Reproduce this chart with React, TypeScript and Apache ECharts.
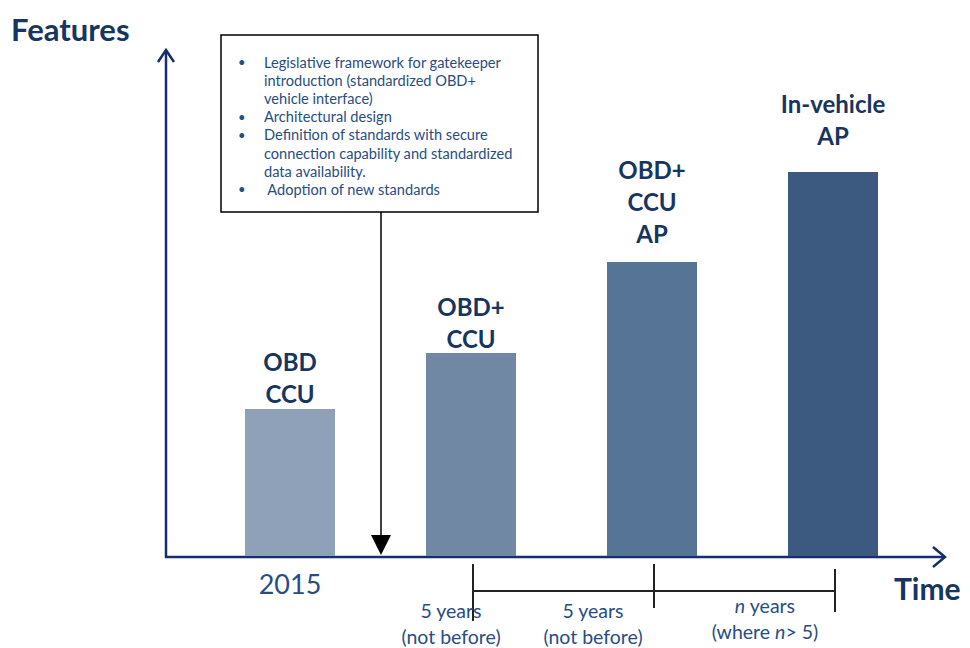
import React, { useEffect, useRef } from "react";
import * as echarts from "echarts";

// ---- data ----
const categories = ["2015", "", "", ""];
const barLabels = ["OBD\nCCU", "OBD+\nCCU", "OBD+\nCCU\nAP", "In-vehicle\nAP"];
const featureLevels = [147, 203, 294, 384];
const barColors = ["#8fa1b9", "#7188a5", "#567495", "#3c5a80"];
const labelGaps = [0, -1, 13, 21];
const boxItems = [
  ["Legislative framework for gatekeeper", "introduction (standardized OBD+", "vehicle interface)"],
  ["Architectural design"],
  ["Definition of standards with secure", "connection capability and standardized", "data availability."],
  [" Adoption of new standards"],
];
const periodLabels = [
  ["5 years", "(not before)"],
  ["5 years", "(not before)"],
  ["{i|n} years", "(where {i|n}> 5)"],
];

const NAVY = "#163560";
const AXIS = "#142f6b";
const TEXTBLUE = "#284d84";
const FONT = "Lato, 'Open Sans', sans-serif";

export default function App() {
  const ref = useRef<HTMLDivElement>(null);
  useEffect(() => {
    if (!ref.current) return;
    const chart = echarts.init(ref.current, null, { renderer: "svg" });

    const graphics: any[] = [];
    // axes arrows
    graphics.push({ type: "line", shape: { x1: 166, y1: 558, x2: 166, y2: 50 }, style: { stroke: AXIS, lineWidth: 2.5 } });
    graphics.push({ type: "polyline", shape: { points: [[158, 62], [166, 50], [174, 62]] }, style: { stroke: AXIS, lineWidth: 2.5, fill: "none" } });
    graphics.push({ type: "line", shape: { x1: 165, y1: 557, x2: 944, y2: 557 }, style: { stroke: AXIS, lineWidth: 2.5 } });
    graphics.push({ type: "polyline", shape: { points: [[933, 547], [945, 557], [933, 567]] }, style: { stroke: AXIS, lineWidth: 2.5, fill: "none" } });
    // titles
    graphics.push({ type: "text", x: 11, y: 29, style: { text: "Features", font: `bold 31px ${FONT}`, fill: NAVY, verticalAlign: "middle" } });
    graphics.push({ type: "text", x: 894, y: 588, style: { text: "Time", font: `bold 30px ${FONT}`, fill: NAVY, verticalAlign: "middle" } });
    // text box
    graphics.push({ type: "rect", shape: { x: 221, y: 35, width: 317, height: 177 }, style: { stroke: "#000", lineWidth: 1.5, fill: "#fff" } });
    let line = 0;
    boxItems.forEach((item) => {
      graphics.push({ type: "text", x: 238, y: 62 + line * 18.2, style: { text: "•", font: `13px ${FONT}`, fill: TEXTBLUE, verticalAlign: "middle" } });
      item.forEach((t) => {
        graphics.push({ type: "text", x: 264, y: 62 + line * 18.2, style: { text: t, font: `14.6px ${FONT}`, fill: TEXTBLUE, verticalAlign: "middle" } });
        line++;
      });
    });
    // pointer arrow
    graphics.push({ type: "line", shape: { x1: 381, y1: 212, x2: 381, y2: 537 }, style: { stroke: "#000", lineWidth: 1.5 } });
    graphics.push({ type: "polygon", shape: { points: [[371, 535], [391, 535], [381, 555]] }, style: { fill: "#000" } });
    // bracket
    graphics.push({ type: "line", shape: { x1: 473, y1: 591, x2: 835, y2: 591 }, style: { stroke: "#222", lineWidth: 2 } });
    graphics.push({ type: "line", shape: { x1: 473, y1: 564, x2: 473, y2: 621 }, style: { stroke: "#222", lineWidth: 2 } });
    graphics.push({ type: "line", shape: { x1: 654, y1: 564, x2: 654, y2: 608 }, style: { stroke: "#222", lineWidth: 2 } });
    graphics.push({ type: "line", shape: { x1: 835, y1: 569, x2: 835, y2: 612 }, style: { stroke: "#222", lineWidth: 2 } });
    // period labels
    const periodX = [451, 593, 765];
    const periodY = [610, 610, 605];
    periodLabels.forEach((pl, i) => {
      pl.forEach((t, j) => {
        graphics.push({
          type: "text",
          x: periodX[i],
          y: periodY[i] + j * 26,
          style: {
            text: t,
            font: `19.5px ${FONT}`,
            fill: TEXTBLUE,
            align: "center",
            verticalAlign: "middle",
            rich: { i: { fontStyle: "italic", fontSize: 19.5, fontFamily: FONT, fill: TEXTBLUE } },
          },
        });
      });
    });

    chart.setOption({
      animation: false,
      grid: { left: 199.5, right: 46.5, top: 56, bottom: 92 },
      xAxis: {
        type: "category",
        data: categories,
        axisLine: { show: false },
        axisTick: { show: false },
        axisLabel: { fontSize: 27, fontFamily: FONT, color: TEXTBLUE, margin: 14 },
      },
      yAxis: { type: "value", min: 0, max: 500, show: false },
      series: [
        {
          type: "bar",
          barWidth: 90,
          data: featureLevels.map((v, i) => ({
            value: v,
            itemStyle: { color: barColors[i] },
            label: {
              show: true,
              position: "top",
              distance: labelGaps[i],
              formatter: barLabels[i],
              fontFamily: FONT,
              fontWeight: "bold",
              fontSize: 24,
              lineHeight: 32,
              color: NAVY,
            },
          })),
        },
      ],
      graphic: graphics,
    });
    return () => chart.dispose();
  }, []);
  return <div ref={ref} style={{ position: "fixed", left: 0, top: 0, width: 970, height: 648, background: "#fff" }} />;
}
